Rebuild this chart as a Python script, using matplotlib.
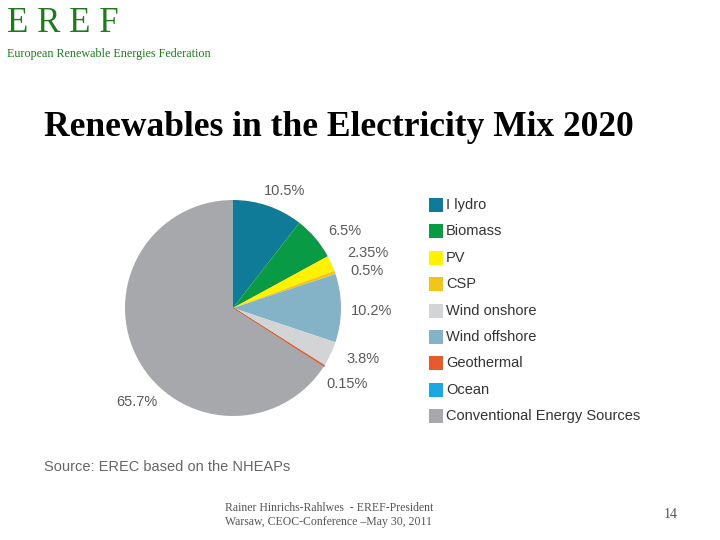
#renewables share in the electricity mix 2020 (EREF slide)

import matplotlib
matplotlib.use('Agg')
import matplotlib.pyplot as plt
from matplotlib.patches import Rectangle

# pie slices, clockwise from 12 o'clock
pie_names = ['Hydro', 'Biomass', 'PV', 'CSP', 'Wind offshore', 'Wind onshore',
             'Geothermal', 'Ocean', 'Conventional Energy Sources']
pie_values = [10.5, 6.5, 2.35, 0.5, 10.2, 3.8, 0.15, 0.0, 65.7]
pie_labels = ['10.5%', '6.5%', '2.35%', '0.5%', '10.2%', '3.8%', '0.15%', '', '65.7%']

legend_names = ['Hydro', 'Biomass', 'PV', 'CSP', 'Wind onshore', 'Wind offshore',
                'Geothermal', 'Ocean', 'Conventional Energy Sources']
legend_text = ['I lydro', 'Biomass', 'PV', 'CSP', 'Wind onshore', 'Wind offshore',
               'Geothermal', 'Ocean', 'Conventional Energy Sources']

colors = {
    'Hydro': '#0f7b98',
    'Biomass': '#099a45',
    'PV': '#fff200',
    'CSP': '#f2c51a',
    'Wind onshore': '#d3d4d6',
    'Wind offshore': '#84b2c6',
    'Geothermal': '#e8592b',
    'Ocean': '#19a8e2',
    'Conventional Energy Sources': '#a7a8ab',
}

# where the percent labels sit (pixels from top-left of the slide)
label_px = [(285, 191), (345, 231), (368, 253), (367, 271), (372, 311),
            (363, 359), (347, 384), (0, 0), (137, 402)]

W, H = 720, 540
fig = plt.figure(figsize=(7.2, 5.4), dpi=100)
fig.patch.set_facecolor('white')

def fx(px):
    return px / W

def fy(py):
    return 1 - py / H

green = '#1c7c1c'
fig.text(fx(7), fy(24), 'E R E F', family='Liberation Serif', fontsize=25,
         color=green, va='center', ha='left')
fig.text(fx(7), fy(54), 'European Renewable Energies Federation',
         family='Liberation Serif', fontsize=8.7, color=green, va='center', ha='left')

fig.text(fx(44), fy(127), 'Renewables in the Electricity Mix 2020',
         family='Liberation Serif', fontsize=25.5, fontweight='bold',
         color='black', va='center', ha='left')

# pie: centre (233, 308), radius 108 px
cx, cy, r = 233, 308, 108
ax = fig.add_axes([fx(cx - r), fy(cy + r), 2 * r / W, 2 * r / H])
wedges, _ = ax.pie(pie_values, colors=[colors[n] for n in pie_names], startangle=90,
                   counterclock=False, radius=1.0,
                   wedgeprops=dict(linewidth=0))
# keep the hair-thin geothermal slice visible
wedges[pie_names.index('Geothermal')].set_edgecolor(colors['Geothermal'])
wedges[pie_names.index('Geothermal')].set_linewidth(0.8)
ax.set_xlim(-1, 1)
ax.set_ylim(-1, 1)
ax.set_aspect('auto')
ax.axis('off')

for lab, (px, py) in zip(pie_labels, label_px):
    if lab:
        fig.text(fx(px), fy(py), lab, family='Liberation Sans', fontsize=10.5,
                 color='#5a5a5a', ha='center', va='center')

# legend
y0 = 205
dy = 26.4
for i, (name, txt) in enumerate(zip(legend_names, legend_text)):
    py = y0 + i * dy
    fig.patches.append(Rectangle((fx(429), fy(py + 7)), 14 / W, 14 / H,
                                 transform=fig.transFigure, facecolor=colors[name],
                                 edgecolor='none'))
    fig.text(fx(446), fy(py), txt, family='Liberation Sans', fontsize=10.5,
             color='#333333', ha='left', va='center')

fig.text(fx(44), fy(467), 'Source: EREC based on the NHEAPs',
         family='Liberation Sans', fontsize=10.5, color='#666666',
         ha='left', va='center')

fig.text(fx(225), fy(508), 'Rainer Hinrichs-Rahlwes  - EREF-President',
         family='Liberation Serif', fontsize=8.5, color='#555555',
         ha='left', va='center')
fig.text(fx(225), fy(522), 'Warsaw, CEOC-Conference \u2013May 30, 2011',
         family='Liberation Serif', fontsize=8.5, color='#555555',
         ha='left', va='center')
fig.text(fx(671), fy(514), '14', family='Liberation Serif', fontsize=10,
         color='#555555', ha='center', va='center')

fig.savefig('out.png', dpi=100)
